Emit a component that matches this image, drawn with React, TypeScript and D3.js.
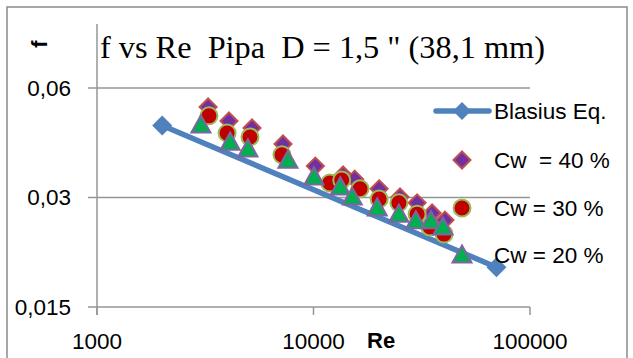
import React, { useRef, useEffect } from "react";
import * as d3 from "d3";

// Blasius correlation (two end points of the line)
const blasiusRe = [2000, 70000];
const blasiusF = [0.0473, 0.0193];

// measured friction factors
const cw40Re = [3260, 4070, 5200, 7230, 10200, 13700, 15500, 20100, 25100, 30100, 35300, 40500];
const cw40F = [0.0532, 0.0487, 0.0466, 0.0421, 0.0366, 0.0346, 0.0337, 0.0317, 0.0301, 0.029, 0.0272, 0.026];

const cw30Re = [3290, 3990, 5090, 7150, 11900, 13500, 16400, 20100, 24800, 30100, 34500, 40100];
const cw30F = [0.0503, 0.0451, 0.044, 0.0393, 0.0329, 0.0335, 0.0317, 0.0297, 0.029, 0.027, 0.0249, 0.0238];

const cw20Re = [3020, 4120, 4980, 7620, 10050, 13300, 15100, 19700, 24800, 29700, 34900, 39600];
const cw20F = [0.0475, 0.0426, 0.0408, 0.038, 0.0342, 0.0321, 0.0301, 0.0281, 0.027, 0.0259, 0.0259, 0.0249];

const xTicks = [1000, 10000, 100000];
const xTickLabels = ["1000", "10000", "100000"];
const yTicks = [0.015, 0.03, 0.06];
const yTickLabels = ["0,015", "0,03", "0,06"];

const legendLabels = ["Blasius Eq.", "Cw  = 40 %", "Cw = 30 %", "Cw = 20 %"];

const W = 633;
const H = 358;
const SANS = "'Liberation Sans', Arial, sans-serif";

const diamond = (r: number) => `M0,${-r}L${r},0L0,${r}L${-r},0Z`;
const triangle = (r: number) => `M0,${-r}L${r},${r * 0.8}L${-r},${r * 0.8}Z`;
const circle = (r: number) => `M${r},0A${r},${r} 0 1,1 ${-r},0A${r},${r} 0 1,1 ${r},0Z`;

const App = () => {
  const ref = useRef<SVGSVGElement>(null);

  useEffect(() => {
    const svg = d3.select(ref.current);
    svg.selectAll("*").remove();

    const x = d3.scaleLog().domain([1000, 100000]).range([97, 530]);
    const y = d3.scaleLog().base(2).domain([0.015, 0.06]).range([307, 88]);
    const left = x.range()[0];
    const right = x.range()[1];
    const bottom = y.range()[0];

    // chart border
    svg.append("rect")
      .attr("x", 7).attr("y", 7)
      .attr("width", 620).attr("height", 400)
      .attr("fill", "#fff")
      .attr("stroke", "#8a8a8a")
      .attr("stroke-width", 1.5);

    // gridlines
    svg.append("g")
      .selectAll("line")
      .data(yTicks.slice(1))
      .join("line")
      .attr("x1", left).attr("x2", right)
      .attr("y1", d => y(d)).attr("y2", d => y(d))
      .attr("stroke", "#969696")
      .attr("stroke-width", 1.5);

    // axes
    const axis = svg.append("g").attr("stroke", "#969696").attr("stroke-width", 1.5);
    axis.append("line").attr("x1", left).attr("x2", left).attr("y1", 24).attr("y2", bottom + 8);
    axis.append("line").attr("x1", left).attr("x2", right).attr("y1", bottom).attr("y2", bottom);
    axis.selectAll(".yt").data(yTicks).join("line")
      .attr("x1", left - 9).attr("x2", left)
      .attr("y1", d => y(d)).attr("y2", d => y(d));
    axis.selectAll(".xt").data(xTicks).join("line")
      .attr("x1", d => x(d)).attr("x2", d => x(d))
      .attr("y1", bottom).attr("y2", bottom + 8);

    // tick labels
    svg.append("g")
      .selectAll("text")
      .data(yTicks)
      .join("text")
      .attr("x", 71)
      .attr("y", d => y(d))
      .attr("dy", "0.35em")
      .attr("text-anchor", "end")
      .style("font-family", SANS)
      .style("font-size", "22.5px")
      .text((d, i) => yTickLabels[i]);

    svg.append("g")
      .selectAll("text")
      .data(xTicks)
      .join("text")
      .attr("x", d => x(d))
      .attr("y", 349)
      .attr("text-anchor", "middle")
      .style("font-family", SANS)
      .style("font-size", "22.5px")
      .text((d, i) => xTickLabels[i]);

    // axis titles
    svg.append("text")
      .attr("x", 367).attr("y", 348)
      .style("font-family", SANS)
      .style("font-size", "22px")
      .style("font-weight", "bold")
      .text("Re");

    svg.append("text")
      .attr("transform", "translate(47,44) rotate(-90)")
      .attr("text-anchor", "middle")
      .style("font-family", SANS)
      .style("font-size", "22px")
      .style("font-weight", "bold")
      .text("f");

    // title
    svg.append("text")
      .attr("x", 100).attr("y", 58)
      .attr("xml:space", "preserve")
      .style("white-space", "pre")
      .style("font-family", "'Liberation Serif', 'Times New Roman', serif")
      .style("font-size", "32.3px")
      .text("f vs Re  Pipa  D = 1,5 \" (38,1 mm)");

    // Blasius line
    const blasius = blasiusRe.map((r, i) => [r, blasiusF[i]]);
    svg.append("path")
      .datum(blasius)
      .attr("fill", "none")
      .attr("stroke", "#4f81bd")
      .attr("stroke-width", 5.5)
      .attr("d", d3.line<number[]>().x(d => x(d[0])).y(d => y(d[1])));
    svg.append("g")
      .selectAll("path")
      .data(blasius)
      .join("path")
      .attr("transform", d => `translate(${x(d[0])},${y(d[1])})`)
      .attr("d", diamond(10))
      .attr("fill", "#4f81bd");

    // measured series
    const drawSeries = (re: number[], f: number[], shape: string, fill: string, stroke: string) => {
      svg.append("g")
        .selectAll("path")
        .data(re.map((r, i) => [r, f[i]]))
        .join("path")
        .attr("transform", d => `translate(${x(d[0])},${y(d[1])})`)
        .attr("d", shape)
        .attr("fill", fill)
        .attr("stroke", stroke)
        .attr("stroke-width", 2);
    };
    drawSeries(cw40Re, cw40F, diamond(8.5), "#7030a0", "#c0504d");
    drawSeries(cw30Re, cw30F, circle(8.5), "#c00000", "#9bbb59");
    drawSeries(cw20Re, cw20F, triangle(9.5), "#00b050", "#8064a2");

    // legend
    const legendY = [111, 160, 208, 255];
    const lg = svg.append("g");
    lg.append("line")
      .attr("x1", 436).attr("x2", 489)
      .attr("y1", legendY[0]).attr("y2", legendY[0])
      .attr("stroke", "#4f81bd").attr("stroke-width", 5.5)
      .attr("stroke-linecap", "round");
    lg.append("path")
      .attr("transform", `translate(462,${legendY[0]})`)
      .attr("d", diamond(9)).attr("fill", "#4f81bd");
    lg.append("path")
      .attr("transform", `translate(462,${legendY[1]})`)
      .attr("d", diamond(8.5)).attr("fill", "#7030a0").attr("stroke", "#c0504d").attr("stroke-width", 2);
    lg.append("path")
      .attr("transform", `translate(462,${legendY[2]})`)
      .attr("d", circle(8.5)).attr("fill", "#c00000").attr("stroke", "#9bbb59").attr("stroke-width", 2);
    lg.append("path")
      .attr("transform", `translate(462,${legendY[3]})`)
      .attr("d", triangle(9.5)).attr("fill", "#00b050").attr("stroke", "#8064a2").attr("stroke-width", 2);
    lg.selectAll("text")
      .data(legendLabels)
      .join("text")
      .attr("x", 494)
      .attr("y", (d, i) => legendY[i])
      .attr("dy", "0.35em")
      .attr("xml:space", "preserve")
      .style("white-space", "pre")
      .style("font-family", SANS)
      .style("font-size", "22.5px")
      .text(d => d);
  }, []);

  return (
    <svg
      ref={ref}
      width={W}
      height={H}
      style={{ position: "absolute", left: 0, top: 0, background: "#fff" }}
    />
  );
};

export default App;
